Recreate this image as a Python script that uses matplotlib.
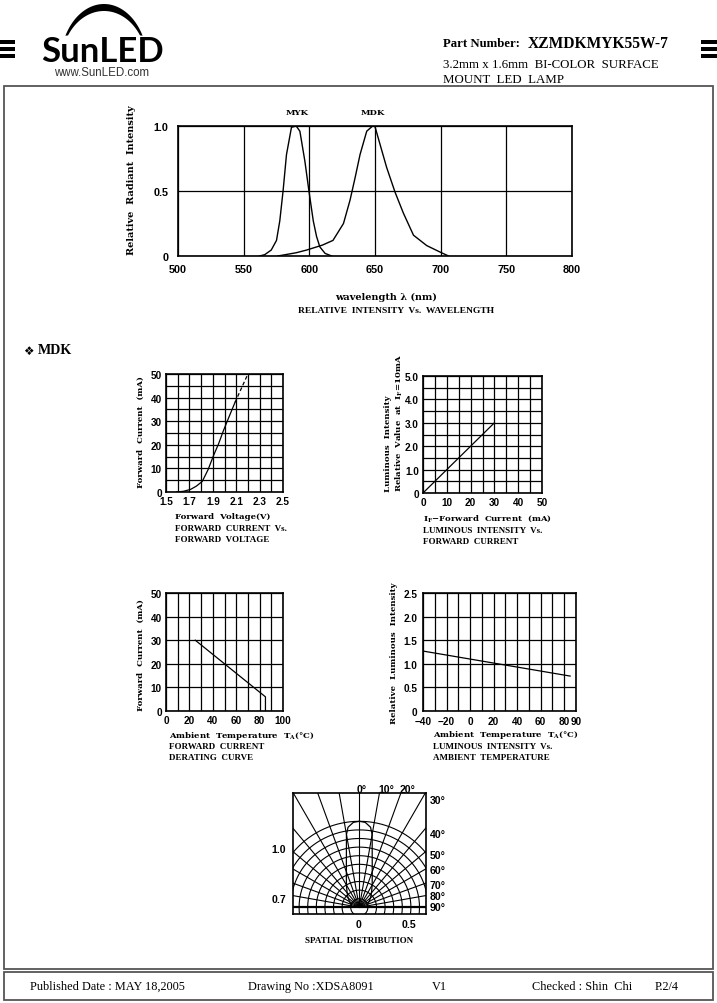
import numpy as np
import matplotlib
matplotlib.use("Agg")
from matplotlib import pyplot as plt
from matplotlib import font_manager
from matplotlib.patches import Rectangle, Polygon

W, H = 717, 1004

# relative intensity vs wavelength
myk_nm = [562, 566, 571, 575, 577.5, 580, 582.6, 586.4, 590, 592.8, 596.6, 599.7, 603, 605.5, 608, 612, 617]
myk_rel = [0, 0.01, 0.046, 0.12, 0.27, 0.5, 0.78, 0.99, 1.0, 0.96, 0.73, 0.5, 0.27, 0.15, 0.07, 0.02, 0]
mdk_nm = [576, 590, 598, 610, 618, 626, 631, 634.8, 638.6, 643.7, 648.2, 650, 653.8, 658.9, 665.3,
          671.6, 679.3, 689.4, 699.6, 706]
mdk_rel = [0, 0.025, 0.046, 0.084, 0.12, 0.25, 0.43, 0.6, 0.78, 0.96, 1.0, 0.995, 0.86, 0.68, 0.49,
           0.33, 0.16, 0.08, 0.03, 0]

# forward current vs forward voltage
vf_v = [1.59, 1.65, 1.71, 1.76, 1.81, 1.86, 1.905, 1.95, 1.99, 2.04, 2.09]
vf_ma = [0, 0.3, 1.1, 2.5, 4.5, 9.5, 15.3, 20.5, 25.9, 32, 38]
vf_dash_v = [2.09, 2.2]
vf_dash_ma = [38, 50]

# luminous intensity vs forward current
iv_ma = [0, 30]
iv_rel = [0, 3.0]

# derating curve
derate_t = [25, 85, 85]
derate_ma = [30, 6, 0]

# luminous intensity vs ambient temperature
temp_c = [-40, 85]
temp_rel = [1.27, 0.74]

# spatial distribution
beam_deg = [0, 4, 8, 10, 12, 15, 20, 25, 30, 40, 50, 60, 70, 80, 90]
beam_rel = [1.0, 0.99, 0.94, 0.86, 0.72, 0.58, 0.44, 0.355, 0.30, 0.22, 0.17, 0.13, 0.105, 0.09, 0.08]


def has_font(name):
    try:
        font_manager.findfont(font_manager.FontProperties(family=name), fallback_to_default=False)
        return True
    except Exception:
        return False


plt.rcParams['font.family'] = ['Liberation Sans', 'DejaVu Sans']
plt.rcParams['font.weight'] = 'bold'

SERIF = ['Liberation Serif', 'DejaVu Serif']
SLAB = ['DejaVu Serif']
LAB = dict(family=SLAB, fontsize=6.1, fontweight='bold')
CAP = dict(family=SERIF, fontsize=6.5, fontweight='bold')

fig = plt.figure(figsize=(W / 100, H / 100), dpi=100)

page = fig.add_axes([0, 0, 1, 1])
page.set_xlim(0, W)
page.set_ylim(H, 0)
page.axis('off')


def px_axes(l, t, r, b):
    return fig.add_axes([l / W, 1 - b / H, (r - l) / W, (b - t) / H])


# ---------- header ----------
for y0 in (41, 48, 55):
    page.add_patch(Rectangle((0, y0), 15, 4, color='k', lw=0))
    page.add_patch(Rectangle((701, y0), 16, 4, color='k', lw=0))

t_out = np.linspace(0.5, np.pi - 0.5, 60)
t_in = np.linspace(np.pi - 0.58, 0.58, 60)
arc = np.concatenate([
    np.column_stack([104 + 44 * np.cos(t_out), 66 - 61 * np.sin(t_out)]),
    np.column_stack([104 + 43 * np.cos(t_in), 66 - 54 * np.sin(t_in)]),
])
page.add_patch(Polygon(arc, closed=True, color='k', lw=0))

if has_font('Liberation Sans Narrow'):
    page.text(103, 62, "SunLED", family='Liberation Sans Narrow', fontsize=27, fontweight='bold',
              ha='center', va='baseline')
else:
    page.text(103, 62, "SunLED", family=['Lato', 'DejaVu Sans'], fontsize=25, fontweight='bold',
              ha='center', va='baseline')
page.text(102, 73, "www.SunLED.com", family=['Liberation Sans'], fontsize=8.3, fontweight='normal',
          color='#333333', ha='center', va='center')

page.text(443, 44, "Part Number:", family=SERIF, fontsize=9.2, fontweight='bold', ha='left', va='center')
page.text(528, 44, "XZMDKMYK55W-7", family=SERIF, fontsize=11.2, fontweight='bold', ha='left', va='center')
page.text(443, 65, "3.2mm x 1.6mm  BI-COLOR  SURFACE", family=SERIF, fontsize=9.3, fontweight='normal',
          ha='left', va='center')
page.text(443, 80, "MOUNT  LED  LAMP", family=SERIF, fontsize=9.3, fontweight='normal', ha='left', va='center')

# ---------- frames ----------
page.add_patch(Rectangle((4, 87), 709, 883, fill=False, ec='#555555', lw=1.3))
page.add_patch(Rectangle((4, 973), 709, 28, fill=False, ec='#555555', lw=1.3))

foot = dict(family=SERIF, fontsize=8.8, fontweight='normal', va='center', ha='left')
page.text(30, 987, "Published Date : MAY 18,2005", **foot)
page.text(248, 987, "Drawing No :XDSA8091", **foot)
page.text(432, 987, "V1", **foot)
page.text(532, 987, "Checked : Shin  Chi", **foot)
page.text(655, 987, "P.2/4", **foot)


def style(ax, xlim, ylim, xmajor, ymajor, xminor, yminor, xlabels, ylabels, size=7.2, xpad=2.5, ypad=3):
    ax.set_xlim(xlim)
    ax.set_ylim(ylim)
    ax.set_xticks(xmajor)
    ax.set_yticks(ymajor)
    ax.set_xticklabels(xlabels)
    ax.set_yticklabels(ylabels)
    ax.set_xticks(xminor, minor=True)
    ax.set_yticks(yminor, minor=True)
    ax.grid(True, which='both', color='k', lw=0.9)
    ax.tick_params(which='both', length=0, labelsize=size)
    ax.tick_params(axis='x', pad=xpad)
    ax.tick_params(axis='y', pad=ypad)
    for s in ax.spines.values():
        s.set_linewidth(1.2)
    ax.set_axisbelow(True)


# ---------- spectrum ----------
ax = px_axes(178, 127, 572, 257)
style(ax, (500, 800), (0, 1), np.arange(500, 801, 50), [0, 0.5, 1.0], [], [],
      [str(v) for v in range(500, 801, 50)], ["0", "0.5", "1.0"], size=7.8, xpad=5.5, ypad=7)
ax.plot(myk_nm, myk_rel, color='k', lw=1.0)
ax.plot(mdk_nm, mdk_rel, color='k', lw=1.0)
page.text(131, 180, "Relative  Radiant  Intensity", rotation=90, ha='center', va='center', **{**LAB, 'fontsize': 7})
page.text(297, 113, "MYK", ha='center', va='center', **LAB)
page.text(373, 113, "MDK", ha='center', va='center', **LAB)
page.text(541, 139, r"T$_\mathregular{A}$=25°C", family=['Liberation Sans'], fontsize=6.5, fontweight='normal',
          ha='center', va='center')
page.text(386, 297, "wavelength λ (nm)", ha='center', va='center', **{**LAB, 'fontsize': 7})
page.text(396, 311, "RELATIVE  INTENSITY  Vs.  WAVELENGTH", ha='center', va='center', **{**CAP, 'fontsize': 6.8})

# ---------- MDK heading ----------
page.text(28, 351, "❖", family=['DejaVu Sans'], fontsize=8.5, ha='center', va='center')
page.text(38, 351, "MDK", family=SERIF, fontsize=10.2, fontweight='bold', ha='left', va='center')

# ---------- forward current vs voltage ----------
ax = px_axes(166, 375, 283, 493)
style(ax, (1.5, 2.5), (0, 50), [1.5, 1.7, 1.9, 2.1, 2.3, 2.5], np.arange(0, 51, 10),
      np.arange(1.5, 2.51, 0.1), np.arange(0, 51, 5),
      ["1.5", "1.7", "1.9", "2.1", "2.3", "2.5"], [str(v) for v in range(0, 51, 10)], xpad=3.2)
ax.plot(vf_v, vf_ma, color='k', lw=0.9)
ax.plot(vf_dash_v, vf_dash_ma, color='k', lw=0.9, linestyle=(0, (3, 2)))
page.text(141, 432, "Forward  Current  (mA)", rotation=90, ha='center', va='center', **LAB)
page.text(175, 517, "Forward  Voltage(V)", ha='left', va='center', **LAB)
page.text(175, 529, "FORWARD  CURRENT  Vs.", ha='left', va='center', **CAP)
page.text(175, 540, "FORWARD  VOLTAGE", ha='left', va='center', **CAP)

# ---------- luminous intensity vs current ----------
ax = px_axes(423, 377, 542, 494)
style(ax, (0, 50), (0, 5), np.arange(0, 51, 10), np.arange(0, 5.1, 1.0),
      np.arange(0, 51, 5), np.arange(0, 5.01, 0.5),
      [str(v) for v in range(0, 51, 10)], ["0", "1.0", "2.0", "3.0", "4.0", "5.0"], xpad=3.2)
ax.plot(iv_ma, iv_rel, color='k', lw=0.9)
page.text(388, 492, "Luminous  Intensity", rotation=90, ha='center', va='bottom', **LAB)
page.text(399, 492, r"Relative  Value  at  I$_\mathregular{F}$=10mA", rotation=90, ha='center', va='bottom', **LAB)
page.text(423, 519, r"I$_\mathregular{F}$−Forward  Current  (mA)", ha='left', va='center', **LAB)
page.text(423, 531, "LUMINOUS  INTENSITY  Vs.", ha='left', va='center', **CAP)
page.text(423, 542, "FORWARD  CURRENT", ha='left', va='center', **CAP)

# ---------- derating curve ----------
ax = px_axes(166, 594, 283, 712)
style(ax, (0, 100), (0, 50), np.arange(0, 101, 20), np.arange(0, 51, 10),
      np.arange(0, 101, 10), [],
      [str(v) for v in range(0, 101, 20)], [str(v) for v in range(0, 51, 10)], xpad=3.2)
ax.plot(derate_t, derate_ma, color='k', lw=0.9)
page.text(141, 655, "Forward  Current  (mA)", rotation=90, ha='center', va='center', **LAB)
page.text(169, 736, r"Ambient  Temperature  T$_\mathregular{A}$(°C)", ha='left', va='center', **LAB)
page.text(169, 747, "FORWARD  CURRENT", ha='left', va='center', **CAP)
page.text(169, 758, "DERATING  CURVE", ha='left', va='center', **CAP)

# ---------- luminous intensity vs temperature ----------
ax = px_axes(423, 594, 576, 712)
style(ax, (-40, 90), (0, 2.5), [-40, -20, 0, 20, 40, 60, 80, 90], np.arange(0, 2.51, 0.5),
      np.arange(-40, 91, 10), [],
      ["−40", "−20", "0", "20", "40", "60", "80", "90"], ["0", "0.5", "1.0", "1.5", "2.0", "2.5"],
      xpad=3.5, ypad=4)
ax.plot(temp_c, temp_rel, color='k', lw=0.9)
page.text(394, 653, "Relative  Luminous  Intensity", rotation=90, ha='center', va='center', **LAB)
page.text(433, 735, r"Ambient  Temperature  T$_\mathregular{A}$(°C)", ha='left', va='center', **LAB)
page.text(433, 747, "LUMINOUS  INTENSITY  Vs.", ha='left', va='center', **CAP)
page.text(433, 758, "AMBIENT  TEMPERATURE", ha='left', va='center', **CAP)

# ---------- spatial distribution ----------
cx, cy, unit = 359.3, 908.3, 86.0
bl, bt, br, bb = 293.3, 794, 425.7, 915
axp = px_axes(bl, bt, br, bb)
axp.set_xlim((bl - cx) / unit, (br - cx) / unit)
axp.set_ylim((cy - bb) / unit, (cy - bt) / unit)
axp.set_xticks([])
axp.set_yticks([])
for s in axp.spines.values():
    s.set_linewidth(1.2)
tt = np.linspace(0, 2 * np.pi, 361)
for r in np.arange(0.1, 1.01, 0.1):
    axp.plot(r * np.cos(tt), r * np.sin(tt), color='k', lw=0.8)
for a in range(-80, 81, 10):
    th = np.deg2rad(a)
    axp.plot([0, 3 * np.sin(th)], [0, 3 * np.cos(th)], color='k', lw=0.8)
axp.axhline(0, color='k', lw=1.6)
ang = np.deg2rad(np.array(beam_deg))
rel = np.array(beam_rel)
full_a = np.concatenate([-ang[::-1], ang[1:]])
full_r = np.concatenate([rel[::-1], rel[1:]])
axp.plot(full_r * np.sin(full_a), full_r * np.cos(full_a), color='k', lw=0.9)

pl = dict(fontsize=7.6, va='center')
page.text(362, 790, "0°", ha='center', **pl)
page.text(386, 790, "10°", ha='center', **pl)
page.text(408, 790, "20°", ha='center', **pl)
for lab, yy in [("30°", 801), ("40°", 835), ("50°", 856), ("60°", 871), ("70°", 886), ("80°", 897), ("90°", 908)]:
    page.text(430, yy, lab, ha='left', **pl)
page.text(279, 850, "1.0", ha='center', **pl)
page.text(279, 900, "0.7", ha='center', **pl)
page.text(359, 925, "0", ha='center', **pl)
page.text(409, 925, "0.5", ha='center', **pl)
page.text(359, 941, "SPATIAL  DISTRIBUTION", ha='center', va='center', **CAP)

fig.savefig("out.png", dpi=100)
